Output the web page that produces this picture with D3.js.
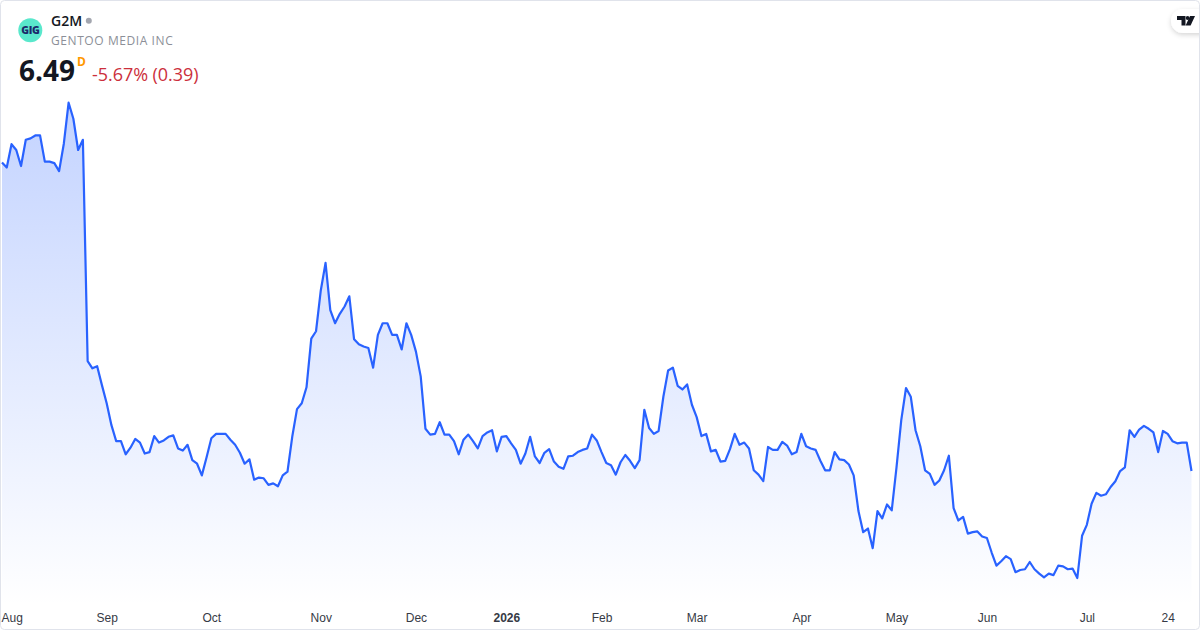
<!DOCTYPE html>
<html>
<head>
<meta charset="utf-8">
<script src="https://cdn.jsdelivr.net/npm/d3@7"></script>
<style>
  html, body { margin: 0; padding: 0; background: #fff; }
  svg { display: block; font-family: "Open Sans", sans-serif; }
  .tick text { font-size: 12px; fill: #363a45; }
</style>
</head>
<body>
<svg id="chart"></svg>
<script>
var prices = [
  10.73,10.66,10.98,10.90,10.68,11.04,11.06,11.10,11.10,10.74,10.74,10.72,10.61,10.99,11.55,11.33,10.90,11.04,
  8.00,7.90,7.93,7.67,7.42,7.12,6.90,6.90,6.72,6.81,6.93,6.88,6.73,6.75,6.97,6.88,6.91,6.96,6.98,6.80,6.77,6.85,
  6.64,6.59,6.43,6.68,6.94,7.00,7.00,7.00,6.92,6.85,6.74,6.59,6.65,6.37,6.40,6.39,6.30,6.32,6.28,6.43,
  6.48,6.96,7.34,7.42,7.64,8.31,8.41,8.97,9.35,8.70,8.52,8.65,8.75,8.89,8.30,8.23,8.20,8.18,7.91,8.36,
  8.52,8.52,8.36,8.36,8.16,8.52,8.36,8.13,7.79,7.07,6.99,7.00,7.16,6.99,6.99,6.90,6.72,6.92,6.99,6.90,
  6.80,6.97,7.02,7.05,6.76,6.96,6.97,6.87,6.78,6.59,6.73,6.96,6.69,6.60,6.74,6.79,6.62,6.55,6.52,6.69,
  6.70,6.75,6.78,6.80,6.99,6.91,6.75,6.60,6.57,6.44,6.61,6.71,6.63,6.53,6.64,7.33,7.08,7.00,7.04,7.51,
  7.87,7.91,7.66,7.61,7.68,7.40,7.23,6.97,7.00,6.76,6.78,6.62,6.63,6.79,7.00,6.85,6.88,6.80,6.50,6.44,
  6.35,6.82,6.78,6.78,6.89,6.84,6.72,6.75,7.00,6.83,6.80,6.78,6.63,6.50,6.50,6.75,6.65,6.64,6.58,6.43,
  5.94,5.65,5.70,5.43,5.94,5.84,6.03,5.95,6.54,7.19,7.63,7.51,7.05,6.83,6.50,6.45,6.30,6.36,6.50,6.70,
  5.98,5.81,5.86,5.63,5.65,5.66,5.59,5.57,5.37,5.19,5.25,5.32,5.28,5.10,5.13,5.14,5.24,5.14,5.08,5.03,
  5.08,5.06,5.19,5.18,5.14,5.15,5.02,5.60,5.75,6.04,6.19,6.15,6.17,6.27,6.35,6.49,6.54,7.05,6.96,7.06,
  7.11,7.07,7.02,6.75,7.04,7.00,6.90,6.87,6.88,6.88,6.49
];
var tickBars = [0,22,44,67,87,106,126,146,168,188,207,228,245];
var tickNames = ["Aug","Sep","Oct","Nov","Dec","2026","Feb","Mar","Apr","May","Jun","Jul","24"];

var width = 1200;
var height = 630;

var svg = d3.select("#chart")
            .attr("width",width)
            .attr("height",height);

var xScale = d3.scaleLinear()
               .domain([0,prices.length-1])
               .range([2,1191.5]);

var yScale = d3.scaleLinear()
               .domain([5.02,11.55])
               .range([578,102.7]);

var defs = svg.append("defs");

var grad = defs.append("linearGradient")
               .attr("id","areaFill")
               .attr("gradientUnits","userSpaceOnUse")
               .attr("x1",0).attr("x2",0)
               .attr("y1",102).attr("y2",606);
grad.append("stop").attr("offset",0).attr("stop-color","#2962ff").attr("stop-opacity",0.28);
grad.append("stop").attr("offset",1).attr("stop-color","#2962ff").attr("stop-opacity",0);

var blur = defs.append("filter")
               .attr("id","pillShadow")
               .attr("x","-30%").attr("y","-30%")
               .attr("width","160%").attr("height","180%");
blur.append("feDropShadow")
    .attr("dx",0).attr("dy",2).attr("stdDeviation",2.5)
    .attr("flood-color","#000").attr("flood-opacity",0.16);

var area = d3.area()
             .x(function(d,i){return xScale(i)})
             .y0(606)
             .y1(function(d){return yScale(d)});

var line = d3.line()
             .x(function(d,i){return xScale(i)})
             .y(function(d){return yScale(d)});

svg.append("path")
   .datum(prices)
   .attr("d",area)
   .attr("fill","url(#areaFill)");

svg.append("path")
   .datum(prices)
   .attr("d",line)
   .attr("fill","none")
   .attr("stroke","#2962ff")
   .attr("stroke-width",2.2)
   .attr("stroke-linejoin","round");

// time axis, bars are trading days so ticks are picked by bar number
var axis = d3.axisBottom(xScale)
             .tickValues(tickBars)
             .tickSize(0)
             .tickPadding(0)
             .tickFormat(function(d,i){return tickNames[i]});

var axisG = svg.append("g")
               .attr("transform","translate(0,613)")
               .call(axis);
axisG.select(".domain").remove();
axisG.selectAll("text")
     .attr("dy","0.71em")
     .attr("dx",function(d,i){return i==0 ? -1 : 0})
     .style("font-weight",function(d,i){return tickNames[i]=="2026" ? 700 : 400})
     .attr("text-anchor",function(d,i){return i==0 ? "start" : "middle"});

// header
svg.append("circle")
   .attr("cx",30.3).attr("cy",30.3).attr("r",12)
   .attr("fill","#5ae8cc");
svg.append("text")
   .attr("x",30.3).attr("y",34)
   .attr("text-anchor","middle")
   .attr("font-size",10.5)
   .attr("font-weight",800)
   .attr("letter-spacing",-0.4)
   .attr("fill","#1b2a6b")
   .text("GIG");

svg.append("text")
   .attr("x",51).attr("y",26)
   .attr("font-size",14)
   .attr("font-weight",600)
   .attr("fill","#131722")
   .text("G2M");
svg.append("circle")
   .attr("cx",88.8).attr("cy",20.8).attr("r",3)
   .attr("fill","#a3a6af");
svg.append("text")
   .attr("x",51).attr("y",45)
   .attr("font-size",12)
   .attr("letter-spacing",0.58)
   .attr("fill","#8c8f98")
   .text("GENTOO MEDIA INC");

svg.append("text")
   .attr("x",19).attr("y",81)
   .attr("font-size",28)
   .attr("font-weight",700)
   .attr("fill","#131722")
   .text("6.49");
svg.append("text")
   .attr("x",77).attr("y",66)
   .attr("font-size",12)
   .attr("font-weight",700)
   .attr("fill","#ff9800")
   .text("D");
svg.append("text")
   .attr("x",92).attr("y",81)
   .attr("font-size",18)
   .attr("letter-spacing",-0.05)
   .attr("fill","#cc2f3c")
   .text("-5.67% (0.39)");

// logo pill, top right
svg.append("rect")
   .attr("x",1171).attr("y",9)
   .attr("width",50).attr("height",24)
   .attr("rx",12)
   .attr("fill","#fff")
   .attr("filter","url(#pillShadow)");
var logo = svg.append("g").attr("fill","#131722");
logo.append("path").attr("d","M1177 16h8.5v9.5h-4v-5.5h-4.5z");
logo.append("circle").attr("cx",1187.6).attr("cy",18).attr("r",1.9);
logo.append("path").attr("d","M1190 16h5l-4.4 9.5h-5z");

// card border
svg.append("rect")
   .attr("x",0.5).attr("y",0.5)
   .attr("width",width-1).attr("height",height-1)
   .attr("rx",4)
   .attr("fill","none")
   .attr("stroke","#e0e3eb");
</script>
</body>
</html>
